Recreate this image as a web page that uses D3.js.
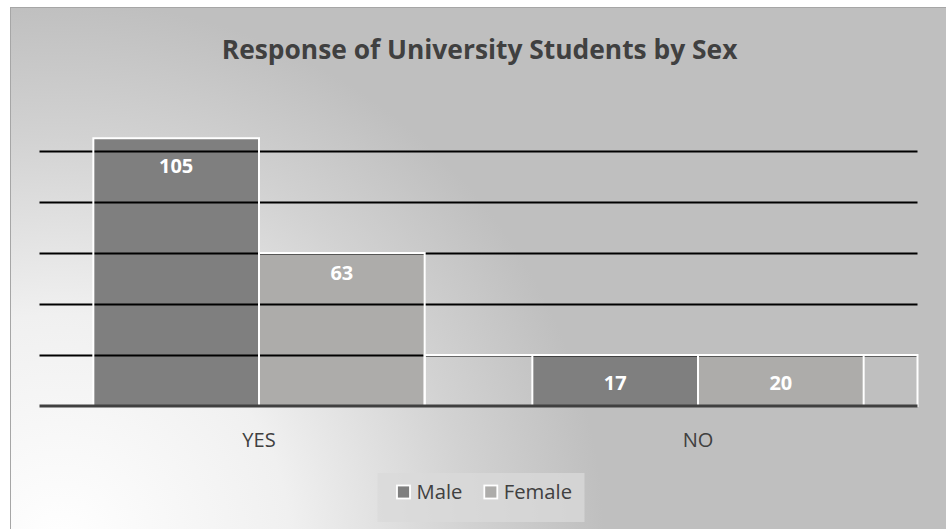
<!DOCTYPE html>
<html>
<head>
<meta charset="utf-8">
<script src="https://cdn.jsdelivr.net/npm/d3@7"></script>
<style>
  html, body { margin: 0; padding: 0; background: #ffffff; }
  svg { display: block; }
  text { font-family: "Open Sans", "Noto Sans", sans-serif; }
</style>
</head>
<body>
<svg id="chart" width="946" height="529"></svg>
<script>
// ---- data ----
const chartTitle = "Response of University Students by Sex";
const categories = ["YES", "NO"];
const seriesNames = ["Male", "Female"];
// data labels shown on the bars
const maleLabels = [105, 17];
const femaleLabels = [63, 20];
// bar heights as drawn, in axis units
const maleBarValues = [105, 20];
const femaleBarValues = [60, 20];
// white-outlined backdrop behind the NO group, in axis units
const backdropValue = 20;
// gridline values
const yTicks = [20, 40, 60, 80, 100];

// ---- layout ----
const W = 946, H = 529;
const frame = {x: 10, y: 7, w: 936, h: 522};
const plot = {left: 39.5, right: 917.5, top: 100, bottom: 406};
const colors = {Male: "#7f7f7f", Female: "#adacaa"};
const textGrey = "#404040";

const svg = d3.select("#chart");
const defs = svg.append("defs");
const grad = defs.append("radialGradient")
  .attr("id", "bg").attr("gradientUnits", "userSpaceOnUse")
  .attr("cx", 60).attr("cy", 545).attr("r", 640)
  .attr("fx", 60).attr("fy", 545);
grad.append("stop").attr("offset", "0").attr("stop-color", "#ffffff");
grad.append("stop").attr("offset", "0.36").attr("stop-color", "#f0f0f0");
grad.append("stop").attr("offset", "0.64").attr("stop-color", "#d2d2d2");
grad.append("stop").attr("offset", "0.85").attr("stop-color", "#bfbfbf");
grad.append("stop").attr("offset", "1").attr("stop-color", "#bfbfbf");

svg.append("rect")
  .attr("x", frame.x + 0.5).attr("y", frame.y + 0.5)
  .attr("width", frame.w).attr("height", frame.h)
  .attr("fill", "url(#bg)").attr("stroke", "#a6a6a6").attr("stroke-width", 1);

// scales
const x = d3.scaleBand().domain(categories).range([plot.left, plot.right]).paddingInner(0).paddingOuter(0);
const gapWidth = 0.65;
const barW = x.bandwidth() / (seriesNames.length + gapWidth);
const xs = d3.scaleBand().domain(seriesNames)
  .range([barW * gapWidth / 2, barW * gapWidth / 2 + barW * seriesNames.length]);
const y = d3.scaleLinear().domain([0, 120]).range([plot.bottom, plot.top]);

// text size fitting helper (substitute font for Calibri)
function fitSize(str, weight, targetW) {
  const t = svg.append("text").attr("font-weight", weight).style("font-size", "20px").text(str);
  const w = t.node().getComputedTextLength();
  t.remove();
  return 20 * targetW / w;
}
const titleSize = fitSize(chartTitle, "bold", 516);
const labelSize = fitSize("105", "bold", 34.3);
const catSize = fitSize("YES", "normal", 33.4);
const legendSize = fitSize("Female", "normal", 68.3);

// title
svg.append("text")
  .attr("x", 479.6).attr("y", 59)
  .attr("text-anchor", "middle")
  .attr("font-weight", "bold")
  .style("font-size", titleSize + "px")
  .attr("fill", textGrey)
  .text(chartTitle);

// rows
const rows = categories.map((c, i) => ({
  cat: c,
  bars: [
    {s: "Male", v: maleBarValues[i], label: maleLabels[i]},
    {s: "Female", v: femaleBarValues[i], label: femaleLabels[i]}
  ]
}));

// backdrop box behind NO group: from end of YES bars to plot right
const backdropX0 = x(categories[0]) + xs(seriesNames[seriesNames.length - 1]) + xs.bandwidth();
const gBars = svg.append("g");
rows.forEach(r => {
  gBars.selectAll(null).data(r.bars).enter().append("rect")
    .attr("x", d => x(r.cat) + xs(d.s))
    .attr("y", d => y(d.v))
    .attr("width", xs.bandwidth())
    .attr("height", d => y(0) - y(d.v))
    .attr("fill", d => colors[d.s]);
});

// gridlines
const gridAxis = d3.axisLeft(y).tickValues(yTicks).tickSize(-(plot.right - plot.left)).tickFormat("");
const gGrid = svg.append("g").attr("transform", `translate(${plot.left},0)`).call(gridAxis);
gGrid.select(".domain").remove();
gGrid.selectAll(".tick line").attr("stroke", "#000000").attr("stroke-width", 2);

// backdrop outline
svg.append("rect")
  .attr("x", backdropX0).attr("y", y(backdropValue))
  .attr("width", plot.right - backdropX0).attr("height", y(0) - y(backdropValue))
  .attr("fill", "none").attr("stroke", "#ffffff").attr("stroke-width", 2);

// bar outlines
rows.forEach(r => {
  svg.append("g").selectAll(null).data(r.bars).enter().append("rect")
    .attr("x", d => x(r.cat) + xs(d.s))
    .attr("y", d => y(d.v))
    .attr("width", xs.bandwidth())
    .attr("height", d => y(0) - y(d.v))
    .attr("fill", "none").attr("stroke", "#ffffff").attr("stroke-width", 2);
});

// x axis (baseline + category labels)
const xAxis = d3.axisBottom(x).tickSize(0).tickPadding(0);
const gX = svg.append("g").attr("transform", `translate(0,${plot.bottom})`).call(xAxis);
gX.select(".domain").attr("stroke", "#404040").attr("stroke-width", 3.2).attr("d", `M${plot.left},0H${plot.right}`);
gX.selectAll(".tick text")
  .attr("y", 41).attr("dy", null)
  .attr("fill", textGrey)
  .style("font-size", catSize + "px")
  .style("font-family", '"Open Sans", "Noto Sans", sans-serif');

// data labels (inside end)
rows.forEach(r => {
  svg.append("g").selectAll(null).data(r.bars).enter().append("text")
    .attr("x", d => x(r.cat) + xs(d.s) + xs.bandwidth() / 2)
    .attr("y", d => y(Math.max(d.v, d.label)) + 35)
    .attr("text-anchor", "middle")
    .attr("font-weight", "bold")
    .style("font-size", labelSize + "px")
    .attr("fill", "#ffffff")
    .text(d => d.label);
});

// legend
const legend = svg.append("g");
legend.append("rect")
  .attr("x", 377.5).attr("y", 473).attr("width", 207).attr("height", 49)
  .attr("fill", "#d9d9d9").attr("fill-opacity", 0.75);
const legendItems = [{s: "Male", x: 396}, {s: "Female", x: 483.3}];
legendItems.forEach(it => {
  legend.append("rect")
    .attr("x", it.x + 1).attr("y", 485.5).attr("width", 13).attr("height", 13)
    .attr("fill", colors[it.s]).attr("stroke", "#ffffff").attr("stroke-width", 1.8);
  legend.append("text")
    .attr("x", it.x + 20.5).attr("y", 498.5)
    .style("font-size", legendSize + "px")
    .attr("fill", textGrey)
    .text(it.s);
});
</script>
</body>
</html>
